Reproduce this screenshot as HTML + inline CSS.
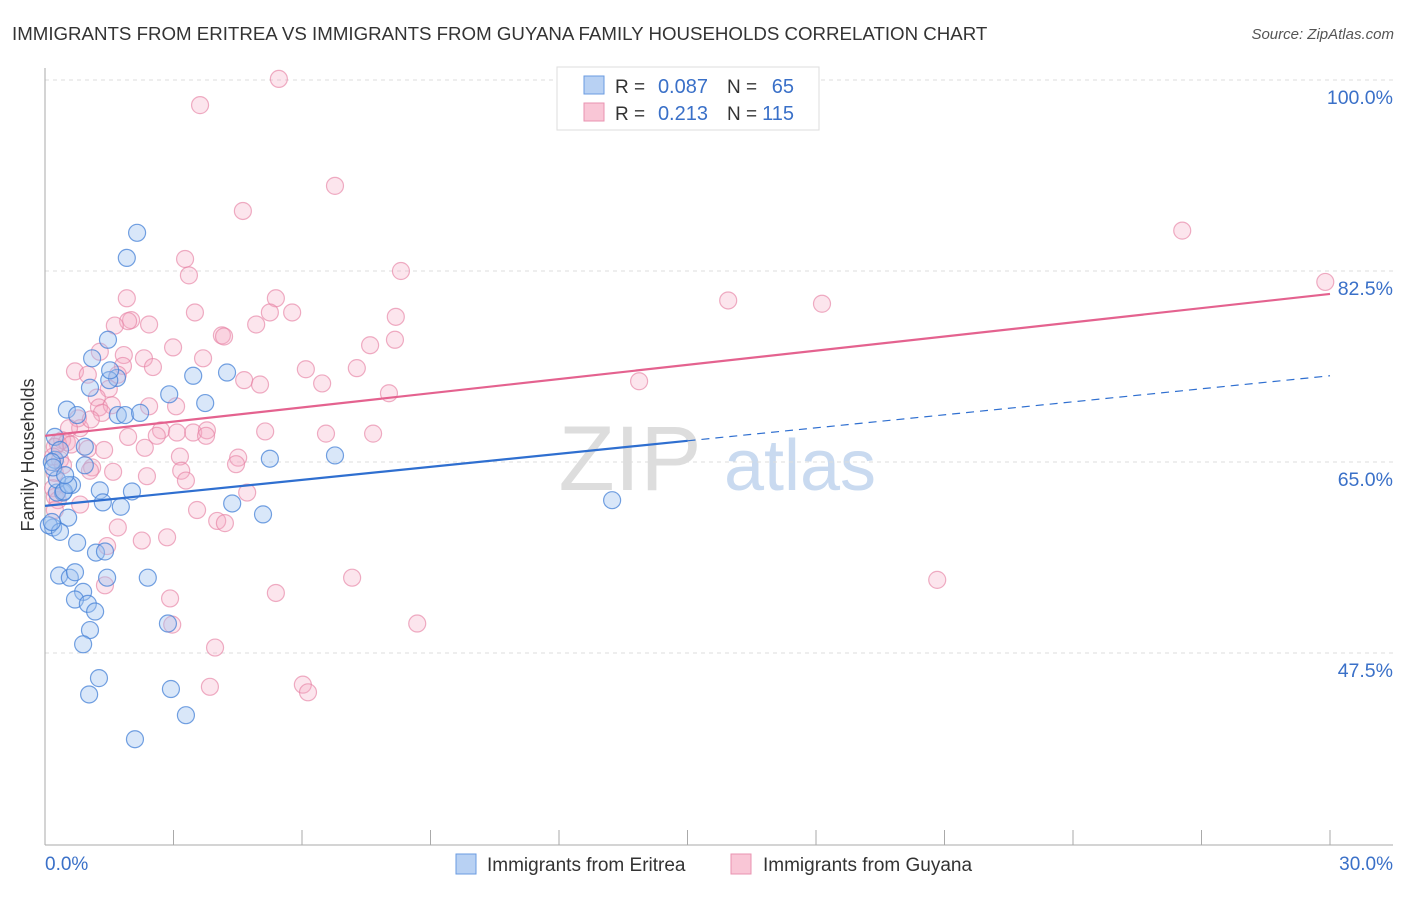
<!DOCTYPE html>
<html><head><meta charset="utf-8"><style>
body{margin:0;background:#fff;font-family:"Liberation Sans",sans-serif}
svg text{font-family:"Liberation Sans",sans-serif}
</style></head><body>
<svg width="1406" height="892" xmlns="http://www.w3.org/2000/svg">
<text x="12" y="40" font-size="18.7" fill="#333">IMMIGRANTS FROM ERITREA VS IMMIGRANTS FROM GUYANA FAMILY HOUSEHOLDS CORRELATION CHART</text>
<text x="1394" y="39" font-size="15" fill="#555" font-style="italic" text-anchor="end">Source: ZipAtlas.com</text>
<g>
<text x="630" y="490" font-size="92" font-family="Liberation Serif" fill="#ddd" text-anchor="middle">ZIP</text>
<text x="800" y="490" font-size="72" fill="#c9daf0" text-anchor="middle">atlas</text>
</g>
<g id="grid"></g>
<g id="axes"></g>
<text transform="translate(34,455) rotate(-90)" font-size="18" fill="#333" text-anchor="middle">Family Households</text>
<g id="pts"></g>
<g id="lines"></g>
<g>
<rect x="557" y="67" width="262" height="63" fill="#fff" stroke="#ddd"/>
<rect x="584" y="76" width="20" height="18" fill="#b8d1f3" stroke="#6a9be0"/>
<rect x="584" y="103" width="20" height="18" fill="#f9c6d6" stroke="#e993b0"/>
<text x="615" y="93" font-size="19" fill="#333">R =</text>
<text x="708" y="93" font-size="20" fill="#3a70c8" text-anchor="end">0.087</text>
<text x="727" y="93" font-size="19" fill="#333">N =</text>
<text x="794" y="93" font-size="20" fill="#3a70c8" text-anchor="end">65</text>
<text x="615" y="120" font-size="19" fill="#333">R =</text>
<text x="708" y="120" font-size="20" fill="#3a70c8" text-anchor="end">0.213</text>
<text x="727" y="120" font-size="19" fill="#333">N =</text>
<text x="794" y="120" font-size="20" fill="#3a70c8" text-anchor="end">115</text>
</g>
<g>
<rect x="456" y="854" width="20" height="20" fill="#b8d1f3" stroke="#6a9be0"/>
<text x="487" y="871" font-size="19" fill="#333">Immigrants from Eritrea</text>
<rect x="731" y="854" width="20" height="20" fill="#f9c6d6" stroke="#e993b0"/>
<text x="763" y="871" font-size="19" fill="#333">Immigrants from Guyana</text>
</g>
</svg>
<script>
const yTicks=[100,82.5,65,47.5];
const yTickLabels=["100.0%","82.5%","65.0%","47.5%"];
const xTickLabels=["0.0%","30.0%"];
const blueX=[2.15,1.91,1.47,1.10,1.05,0.51,0.75,1.70,1.87,2.22,1.68,2.90,3.46,3.74,4.25,5.25,6.77,13.24,5.09,4.37,2.40,0.93,1.28,1.35,1.77,2.03,0.42,0.28,0.63,0.19,0.09,0.54,0.35,0.75,0.33,0.58,0.70,1.19,1.40,1.45,0.89,0.70,1.00,1.17,1.05,2.87,0.89,1.26,1.03,2.94,3.29,2.10,0.23,0.23,0.28,0.44,0.16,0.35,0.16,0.93,0.54,1.50,0.19,0.47,1.52];
const blueY=[86.0,83.7,76.2,74.5,71.8,69.8,69.3,69.3,69.3,69.5,72.7,71.2,72.9,70.4,73.2,65.3,65.6,61.5,60.2,61.2,54.4,66.4,62.4,61.3,60.9,62.3,62.2,62.2,62.9,59.0,59.2,59.9,58.6,57.6,54.6,54.4,54.9,56.7,56.8,54.4,53.1,52.4,52.0,51.3,49.6,50.2,48.3,45.2,43.7,44.2,41.8,39.6,67.3,65.2,63.4,62.3,59.5,66.1,65.0,64.7,62.9,72.5,64.5,63.8,73.4];
const pinkX=[5.46,3.62,6.77,4.62,26.55,3.27,3.36,8.31,29.89,15.95,18.14,5.39,5.77,5.25,3.50,1.91,2.01,1.94,1.63,2.43,4.13,4.18,4.93,8.19,8.17,7.59,2.99,3.69,1.28,1.84,2.31,2.52,1.82,1.70,0.70,1.00,4.65,5.02,6.09,6.47,7.28,8.03,13.87,1.49,1.21,1.26,1.56,2.43,3.06,1.33,0.77,0.82,1.94,2.71,2.61,3.08,3.46,3.78,3.76,5.14,6.56,7.66,0.56,0.40,0.30,0.51,0.61,0.23,0.19,0.35,1.00,1.38,2.33,3.15,4.51,4.46,1.59,1.10,1.05,2.38,3.18,3.29,0.23,0.19,0.23,0.30,4.72,3.55,1.70,4.02,4.20,2.26,2.85,1.45,7.17,20.83,5.39,1.40,2.92,2.97,8.69,3.97,3.85,6.02,6.14,0.42,0.23,0.82,1.07];
const pinkY=[100.1,97.7,90.3,88.0,86.2,83.6,82.1,82.5,81.5,79.8,79.5,80.0,78.7,78.7,78.7,80.0,78.0,77.9,77.5,77.6,76.6,76.5,77.6,78.3,76.2,75.7,75.5,74.5,75.1,74.8,74.5,73.7,73.8,73.0,73.3,73.0,72.5,72.1,73.5,72.2,73.6,71.3,72.4,71.7,70.9,70.0,70.2,70.1,70.1,69.5,69.0,68.1,67.3,67.9,67.4,67.7,67.7,67.9,67.4,67.8,67.6,67.6,68.1,67.0,66.7,66.8,66.6,66.4,65.5,65.2,66.2,66.1,66.3,65.5,65.4,64.8,64.1,64.5,64.2,63.7,64.2,63.3,64.0,62.6,61.8,61.5,62.2,60.6,59.0,59.6,59.4,57.8,58.1,57.3,54.4,54.2,53.0,53.7,52.5,50.1,50.2,48.0,44.4,44.6,43.9,64.7,60.6,61.1,68.9];
const blueTrend=[60.98,72.9];
const blueSolidEnd=15.0;
const pinkTrend=[67.4,80.4];
const NS="http://www.w3.org/2000/svg";
const X0=45,X1=1330,Y100=80,PPU=191/17.5;
const sx=v=>X0+(v/30)*(X1-X0);
const sy=v=>Y100+(100-v)*PPU;
function mk(t,a,p){const e=document.createElementNS(NS,t);for(const k in a)e.setAttribute(k,a[k]);p.appendChild(e);return e;}
const grid=document.getElementById('grid'),axes=document.getElementById('axes');
yTicks.forEach((v,i)=>{
 const l=mk('line',{x1:X0,x2:1393,y1:sy(v),y2:sy(v),stroke:'#ddd','stroke-dasharray':'4,4'},grid);
 
 
 const t=mk('text',{x:1393,y:sy(v)+24,'font-size':19.5,fill:'#3a70c8','text-anchor':'end'},axes);
 t.textContent=yTickLabels[i];
 
 
});
mk('line',{x1:X0,x2:X0,y1:68,y2:845,stroke:'#aaa'},axes);
mk('line',{x1:X0,x2:1393,y1:845,y2:845,stroke:'#aaa'},axes);
for(let i=1;i<=10;i++){const tk=mk('line',{x1:sx(i*3),x2:sx(i*3),y1:830,y2:845,stroke:'#aaa'},axes);
 
 }
[[0,'start',X0],[30,'end',1393]].forEach((d,i)=>{const t=mk('text',{x:d[2],y:870,'font-size':19,fill:'#3a70c8','text-anchor':d[1]},axes);t.textContent=xTickLabels[i];
 
 });
const pts=document.getElementById('pts');
pinkX.forEach((x,i)=>{const c=mk('circle',{cx:sx(x),cy:sy(pinkY[i]),r:8.5,fill:'rgba(246,170,195,0.3)',stroke:'rgba(230,130,165,0.65)','stroke-width':1.2},pts);
 
 });
blueX.forEach((x,i)=>{const c=mk('circle',{cx:sx(x),cy:sy(blueY[i]),r:8.5,fill:'rgba(160,195,240,0.4)',stroke:'rgba(70,130,215,0.75)','stroke-width':1.2},pts);
 
 });
const lines=document.getElementById('lines');
const bAt=x=>blueTrend[0]+(blueTrend[1]-blueTrend[0])*x/30;
const l1=mk('line',{x1:sx(0),y1:sy(blueTrend[0]),x2:sx(blueSolidEnd),y2:sy(bAt(blueSolidEnd)),stroke:'#2f6fd0','stroke-width':2.2},lines);


const l2=mk('line',{x1:sx(blueSolidEnd),y1:sy(bAt(blueSolidEnd)),x2:sx(30),y2:sy(blueTrend[1]),stroke:'#2f6fd0','stroke-width':1.2,'stroke-dasharray':'8,6'},lines);


const l3=mk('line',{x1:sx(0),y1:sy(pinkTrend[0]),x2:sx(30),y2:sy(pinkTrend[1]),stroke:'#e4628f','stroke-width':2.2},lines);


</script>
</body></html>
